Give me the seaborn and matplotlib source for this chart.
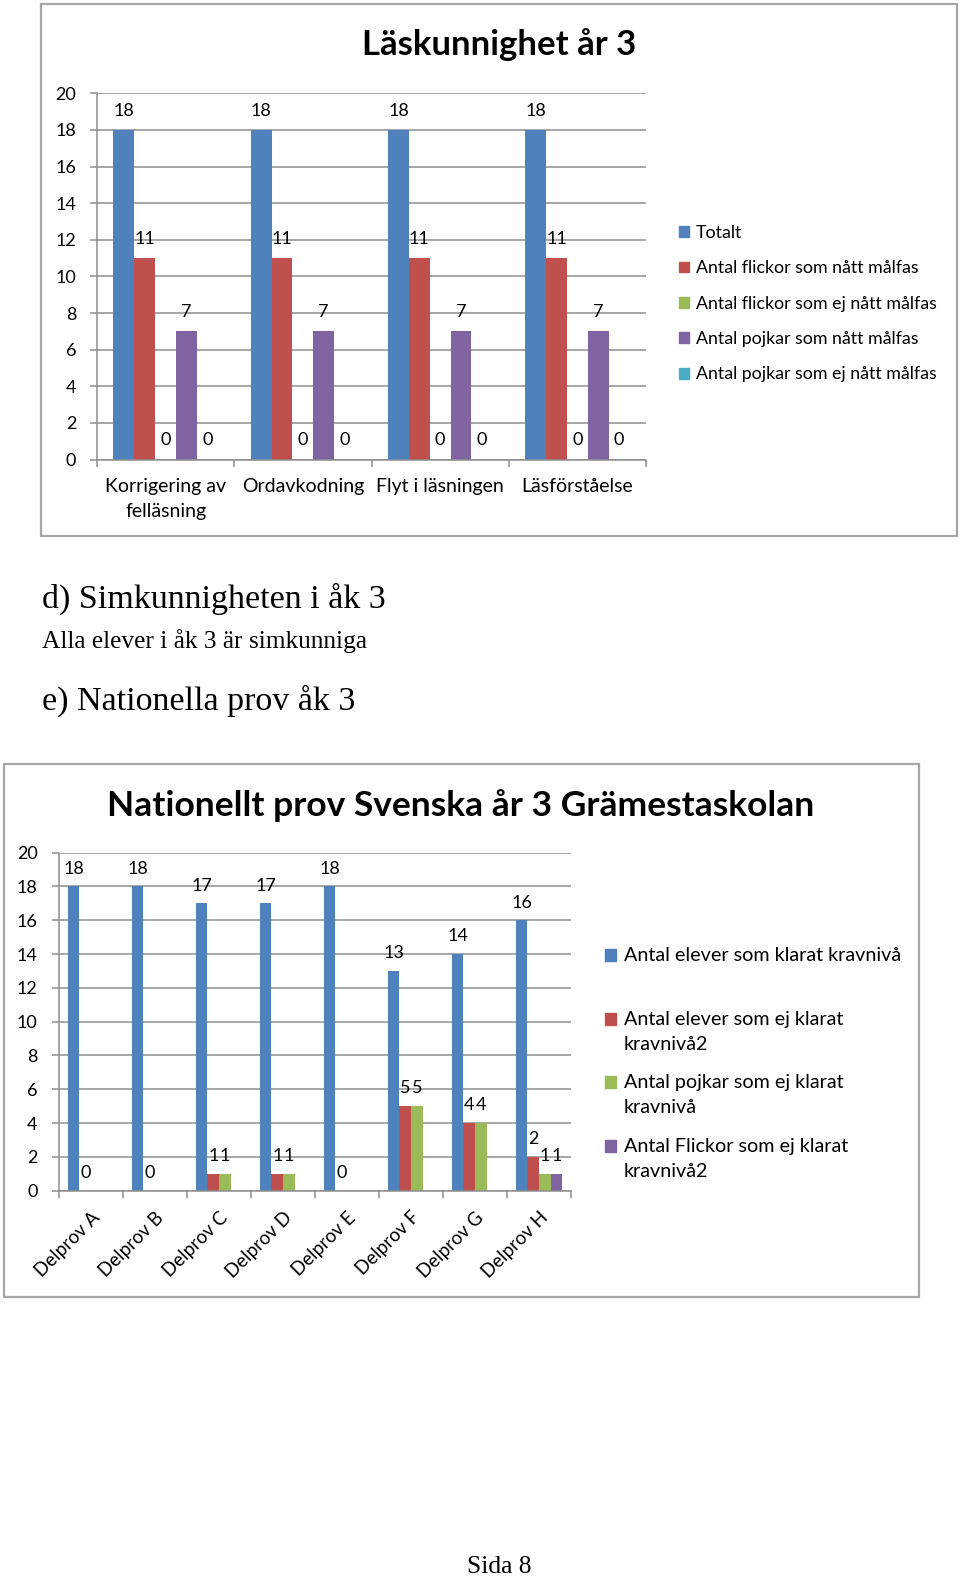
"""Läskunnighet år 3 / Nationellt prov Svenska år 3 Grämestaskolan"""
import numpy as np
import pandas as pd
import matplotlib
matplotlib.use("Agg")
import matplotlib.pyplot as plt
import seaborn as sns
from matplotlib.patches import Patch, Rectangle
from matplotlib.legend_handler import HandlerPatch

# --- Läskunnighet år 3 ---
kategorier1 = ["Korrigering av\nfelläsning", "Ordavkodning", "Flyt i läsningen", "Läsförståelse"]
serier1 = ["Totalt", "Antal flickor som nått målfas", "Antal flickor som ej nått målfas",
           "Antal pojkar som nått målfas", "Antal pojkar som ej nått målfas"]
totalt = [18, 18, 18, 18]
flickor_natt = [11, 11, 11, 11]
flickor_ej_natt = [0, 0, 0, 0]
pojkar_natt = [7, 7, 7, 7]
pojkar_ej_natt = [0, 0, 0, 0]
farger1 = ["#4F81BD", "#C0504D", "#9BBB59", "#8064A2", "#4BACC6"]

# --- Nationellt prov Svenska år 3 ---
kategorier2 = ["Delprov A", "Delprov B", "Delprov C", "Delprov D",
               "Delprov E", "Delprov F", "Delprov G", "Delprov H"]
serier2 = ["Antal elever som klarat kravnivå", "Antal elever som ej klarat kravnivå2",
           "Antal pojkar som ej klarat kravnivå", "Antal Flickor som ej klarat kravnivå2"]
legend2_labels = ["Antal elever som klarat kravnivå\n ", "Antal elever som ej klarat\nkravnivå2",
                  "Antal pojkar som ej klarat\nkravnivå", "Antal Flickor som ej klarat\nkravnivå2"]
klarat = [18, 18, 17, 17, 18, 13, 14, 16]
ej_klarat = [0, 0, 1, 1, 0, 5, 4, 2]
pojkar_ej_klarat = [None, None, 1, 1, None, 5, 4, 1]
flickor_ej_klarat = [None, None, None, None, None, None, None, 1]
farger2 = ["#4F81BD", "#C0504D", "#9BBB59", "#8064A2"]

W, H = 960, 1578
# text layout measured on a 954x1568 view of the page
RW, RH = 954, 1568
GRID = "#8e8e8e"

sns.set_theme(style="white")
plt.rcParams["font.family"] = ["Lato", "DejaVu Sans"]
plt.rcParams["text.color"] = "black"
plt.rcParams["xtick.labelcolor"] = "black"
plt.rcParams["ytick.labelcolor"] = "black"


def fx(x):
    return x / RW


def fy(y):
    return 1 - y / RH


def long_frame(kategorier, serier, columns):
    rows = []
    for serie, vals in zip(serier, columns):
        for kat, v in zip(kategorier, vals):
            if v is not None:
                rows.append({"Kategori": kat, "Serie": serie, "Antal": v})
    return pd.DataFrame(rows)


def px_axes(fig, x0, y0, x1, y1):
    # full-size pixel box
    return fig.add_axes([x0 / W, 1 - y1 / H, (x1 - x0) / W, (y1 - y0) / H])


def style_axes(ax, ypad):
    ax.set_ylim(0, 20)
    ax.set_yticks(range(0, 21, 2))
    ax.grid(axis="y", color=GRID, lw=1.1)
    ax.set_axisbelow(True)
    for s in ["top", "right"]:
        ax.spines[s].set_visible(False)
    for s in ["left", "bottom"]:
        ax.spines[s].set_color(GRID)
        ax.spines[s].set_linewidth(1.1)
    ax.tick_params(axis="y", length=5, width=1.1, color=GRID, pad=ypad, labelsize=13, left=True)
    n = len(ax.get_xticks())
    ax.set_xticks(np.arange(-0.5, n, 1), minor=True)
    ax.tick_params(axis="x", which="minor", length=5, width=1.1, color=GRID, bottom=True)
    ax.tick_params(axis="x", which="major", length=0)
    ax.set_xlabel("")
    ax.set_ylabel("")


fig = plt.figure(figsize=(W / 100, H / 100), dpi=100)

# ---------- chart 1 ----------
df1 = long_frame(kategorier1, serier1, [totalt, flickor_natt, flickor_ej_natt, pojkar_natt, pojkar_ej_natt])
ax1 = px_axes(fig, 97, 93.3, 646, 459.5)
sns.barplot(data=df1, x="Kategori", y="Antal", hue="Serie", hue_order=serier1, order=kategorier1,
            palette=farger1, saturation=1, width=0.76, legend=False, ax=ax1, errorbar=None,
            linewidth=0)
style_axes(ax1, ypad=10)
ax1.tick_params(axis="x", which="major", labelsize=14, pad=13)
for t in ax1.get_xticklabels():
    t.set_linespacing(1.6)
for c in ax1.containers:
    ax1.bar_label(c, labels=[f"{v:g}" for v in c.datavalues], padding=8, fontsize=13)
ax1.legend(handles=[Patch(color=f) for f in farger1], labels=serier1, loc="upper left",
           bbox_to_anchor=(fx(675), fy(223.5)), bbox_transform=fig.transFigure,
           frameon=False, fontsize=12.8, handlelength=0.55, handleheight=0.55,
           handletextpad=0.4, labelspacing=1.09, borderpad=0, borderaxespad=0)
fig.text(fx(496), fy(44), "Läskunnighet år 3", ha="center", va="center",
         fontsize=25, fontweight="bold")

# ---------- chart 2 ----------
df2 = long_frame(kategorier2, serier2, [klarat, ej_klarat, pojkar_ej_klarat, flickor_ej_klarat])
ax2 = px_axes(fig, 59, 852.7, 571, 1190.6)
sns.barplot(data=df2, x="Kategori", y="Antal", hue="Serie", hue_order=serier2, order=kategorier2,
            palette=farger2, saturation=1, width=0.72, legend=False, ax=ax2, errorbar=None,
            linewidth=0)
style_axes(ax2, ypad=10.5)
ax2.set_xticks(range(len(kategorier2)))
ax2.set_xticklabels(kategorier2, rotation=45, ha="right", va="top", rotation_mode="anchor")
ax2.tick_params(axis="x", which="major", labelsize=13.5, pad=13)
for c in ax2.containers:
    ax2.bar_label(c, labels=[f"{v:g}" for v in c.datavalues], padding=7, fontsize=13)


def top_square(legend, orig_handle, xdescent, ydescent, width, height, fontsize):
    # key square aligned with the first line of a two-line label
    return Rectangle((-xdescent, -ydescent + 0.66 * fontsize), width, height)


handles2 = [Patch(color=f) for f in farger2]
leg2 = ax2.legend(handles=handles2, labels=legend2_labels, loc="upper left",
                  bbox_to_anchor=(fx(601), fy(941)), bbox_transform=fig.transFigure,
                  frameon=False, fontsize=14.2, handlelength=0.55, handleheight=0.55,
                  handletextpad=0.4, labelspacing=1.07, borderpad=0, borderaxespad=0,
                  handler_map={h: HandlerPatch(patch_func=top_square) for h in handles2})
for t in leg2.get_texts():
    t.set_linespacing(1.6)
fig.text(fx(458), fy(800), "Nationellt prov Svenska år 3 Grämestaskolan", ha="center",
         va="center", fontsize=25.5, fontweight="bold")

# ---------- frames and page text ----------
for x0, y0, x1, y1 in [(41, 4, 951, 533), (4, 759, 913, 1289)]:
    fig.add_artist(Rectangle((fx(x0), fy(y1)), fx(x1) - fx(x0), fy(y0) - fy(y1),
                             transform=fig.transFigure, fill=False, edgecolor="#a6a6a6", lw=1.6))

serif = ["Liberation Serif", "DejaVu Serif"]
fig.text(fx(42), fy(595), "d) Simkunnigheten i åk 3", family=serif, fontsize=24.5, va="center")
fig.text(fx(42), fy(637), "Alla elever i åk 3 är simkunniga", family=serif, fontsize=18.3, va="center")
fig.text(fx(42), fy(696), "e) Nationella prov åk 3", family=serif, fontsize=24.5, va="center")
fig.text(fx(496), fy(1557), "Sida 8", family=serif, fontsize=18.4, ha="center", va="center")

fig.savefig("out.png", dpi=100)
